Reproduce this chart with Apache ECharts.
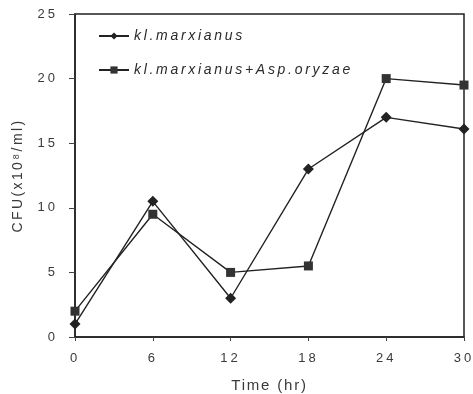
<!DOCTYPE html>
<html><head><meta charset="utf-8">
<script src="https://cdn.jsdelivr.net/npm/echarts@6/dist/echarts.min.js"></script>
<style>html,body{margin:0;padding:0;background:#fff}#c{width:473px;height:394px}</style>
</head><body><div id="c"></div>
<script>
const times = [0, 6, 12, 18, 24, 30];
const kmValues = [1, 10.5, 3, 13, 17, 16.1];
const kmAspValues = [2, 9.5, 5, 5.5, 20, 19.5];
const seriesNames = ['kl.marxianus', 'kl.marxianus+Asp.oryzae'];
const xTicks = [0, 6, 12, 18, 24, 30];
const yTicks = [0, 5, 10, 15, 20, 25];

// letter spacing for the wide-set lettering of the original figure
(function () {
  const P = CanvasRenderingContext2D.prototype;
  const orig = P.fillText;
  P.fillText = function (t, x, y, m) {
    const f = this.font || '';
    let ls = '0px';
    if (f.indexOf('italic') >= 0) ls = '2.7px';
    else if (f.indexOf('13px') >= 0) ls = '3px';
    else if (f.indexOf('15px') >= 0) ls = '1.8px';
    else if (f.indexOf('14px') >= 0) ls = '2.4px';
    if ('letterSpacing' in this) {
      const prev = this.letterSpacing;
      this.letterSpacing = ls;
      orig.call(this, t, x, y, m);
      this.letterSpacing = prev;
    } else {
      orig.call(this, t, x, y, m);
    }
  };
})();

const chart = echarts.init(document.getElementById('c'));
const font = 'Liberation Sans, Arial, sans-serif';
const txt = '#3a3a3a';
chart.setOption({
  animation: false,
  grid: { left: 75, right: 9, top: 14, bottom: 57, show: true, borderColor: '#222', borderWidth: 1.5,
          containLabel: false, outerBoundsMode: 'none' },
  legend: {
    left: 93, top: 24, orient: 'vertical', itemGap: 20, itemWidth: 30, itemHeight: 9,
    data: seriesNames,
    textStyle: { fontFamily: font, fontStyle: 'italic', fontSize: 14, color: '#2a2a2a' }
  },
  xAxis: {
    type: 'value', min: xTicks[0], max: xTicks[xTicks.length - 1], interval: 6,
    name: 'Time (hr)', nameLocation: 'middle', nameGap: 41,
    nameTextStyle: { fontFamily: font, fontSize: 15, color: txt },
    axisLine: { lineStyle: { color: '#222', width: 1.5 } },
    axisTick: { length: 4, lineStyle: { color: '#444' } },
    axisLabel: { fontFamily: font, fontSize: 13, color: txt, margin: 15 },
    splitLine: { show: false }
  },
  yAxis: {
    type: 'value', min: yTicks[0], max: yTicks[yTicks.length - 1], interval: 5,
    name: 'CFU(x10⁸/ml)', nameLocation: 'middle', nameGap: 50, nameRotate: 90,
    nameTextStyle: { fontFamily: font, fontSize: 14, color: txt },
    axisLine: { lineStyle: { color: '#222', width: 1.5 } },
    axisTick: { length: 6, lineStyle: { color: '#444' } },
    axisLabel: { fontFamily: font, fontSize: 13, color: txt, margin: 17 },
    splitLine: { show: false }
  },
  series: [
    {
      name: seriesNames[0], type: 'line', symbol: 'diamond', symbolSize: 11,
      data: times.map((t, i) => [t, kmValues[i]]),
      lineStyle: { color: '#222', width: 1.4 }, itemStyle: { color: '#222' }
    },
    {
      name: seriesNames[1], type: 'line', symbol: 'rect', symbolSize: 9,
      data: times.map((t, i) => [t, kmAspValues[i]]),
      lineStyle: { color: '#222', width: 1.4 }, itemStyle: { color: '#333' }
    }
  ]
});
</script></body></html>
